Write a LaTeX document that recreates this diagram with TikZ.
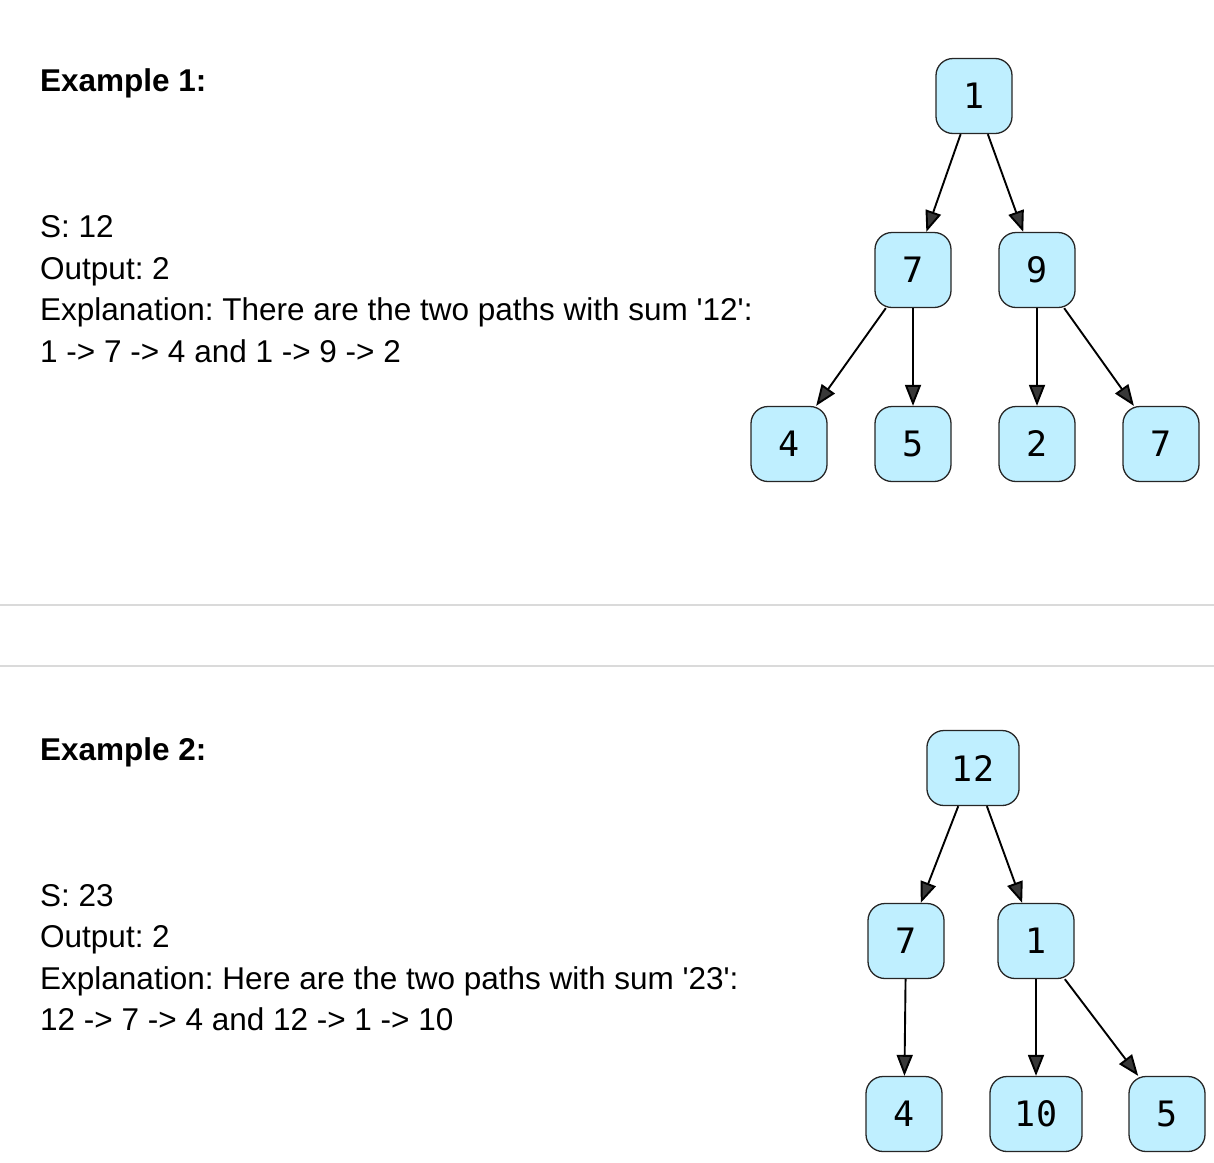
\documentclass[tikz,border=0pt]{standalone}
\usepackage{fontspec}
\setmainfont{Liberation Sans}
\newfontfamily\digitfont{DejaVu Sans Mono}
\usetikzlibrary{arrows.meta}
\definecolor{nodefill}{RGB}{191,239,255}
\definecolor{rulegray}{RGB}{218,218,218}
\frenchspacing
\begin{document}
\begin{tikzpicture}[x=1pt,y=-1pt,
    treenode/.style={draw=black!85,line width=1.3pt,fill=nodefill,rounded corners=17pt,
      minimum width=76pt,minimum height=75pt,inner xsep=25pt,
      font=\digitfont\fontsize{35}{35}\selectfont},
    edge/.style={line width=1.9pt,-{Triangle[length=21pt,width=16pt,fill=black!78]}},
    txt/.style={anchor=base west,inner sep=0pt,font=\fontsize{31.5}{38}\selectfont}]
  \useasboundingbox (0,0) rectangle (1214,1162);

  % example 1
  \node[txt,font=\bfseries\fontsize{31.5}{38}\selectfont] (ex1) at (40,91) {Example 1:};
  \node[txt] (s1) at (40,237) {S: 12};
  \node[txt] (out1) at (40,279) {Output: 2};
  \node[txt] (expl1) at (40,320) {Explanation: There are the two paths with sum \textquotesingle12\textquotesingle:};
  \node[txt] (path1) at (40,362) {1 -> 7 -> 4 and 1 -> 9 -> 2};

  \node[treenode] (a1) at (974,96) {1};
  \node[treenode] (a7) at (913,270) {7};
  \node[treenode] (a9) at (1037,270) {9};
  \node[treenode] (a4) at (789,444) {4};
  \node[treenode] (a5) at (913,444) {5};
  \node[treenode] (a2) at (1037,444) {2};
  \node[treenode] (a7b) at (1161,444) {7};
  \draw[edge] (a1) -- (a7);
  \draw[edge] (a1) -- (a9);
  \draw[edge] (a7) -- (a4);
  \draw[edge] (a7) -- (a5);
  \draw[edge] (a9) -- (a2);
  \draw[edge] (a9) -- (a7b);

  % separators
  \coordinate (r1l) at (0,605);
  \coordinate (r1r) at (1214,605);
  \coordinate (r2l) at (0,666);
  \coordinate (r2r) at (1214,666);
  \draw[rulegray,line width=1.5pt] (r1l) -- (r1r);
  \draw[rulegray,line width=1.5pt] (r2l) -- (r2r);

  % example 2
  \node[txt,font=\bfseries\fontsize{31.5}{38}\selectfont] (ex2) at (40,760) {Example 2:};
  \node[txt] (s2) at (40,906) {S: 23};
  \node[txt] (out2) at (40,947) {Output: 2};
  \node[txt] (expl2) at (40,989) {Explanation: Here are the two paths with sum \textquotesingle23\textquotesingle:};
  \node[txt] (path2) at (40,1030) {12 -> 7 -> 4 and 12 -> 1 -> 10};

  \node[treenode] (b12) at (973,768) {12};
  \node[treenode] (b7) at (906,941) {7};
  \node[treenode] (b1) at (1036,941) {1};
  \node[treenode] (b4) at (904,1114) {4};
  \node[treenode] (b10) at (1036,1114) {10};
  \node[treenode] (b5) at (1167,1114) {5};
  \draw[edge] (b12) -- (b7);
  \draw[edge] (b12) -- (b1);
  \draw[edge] (b7) -- (b4);
  \draw[edge] (b1) -- (b10);
  \draw[edge] (b1) -- (b5);
\end{tikzpicture}
\end{document}
